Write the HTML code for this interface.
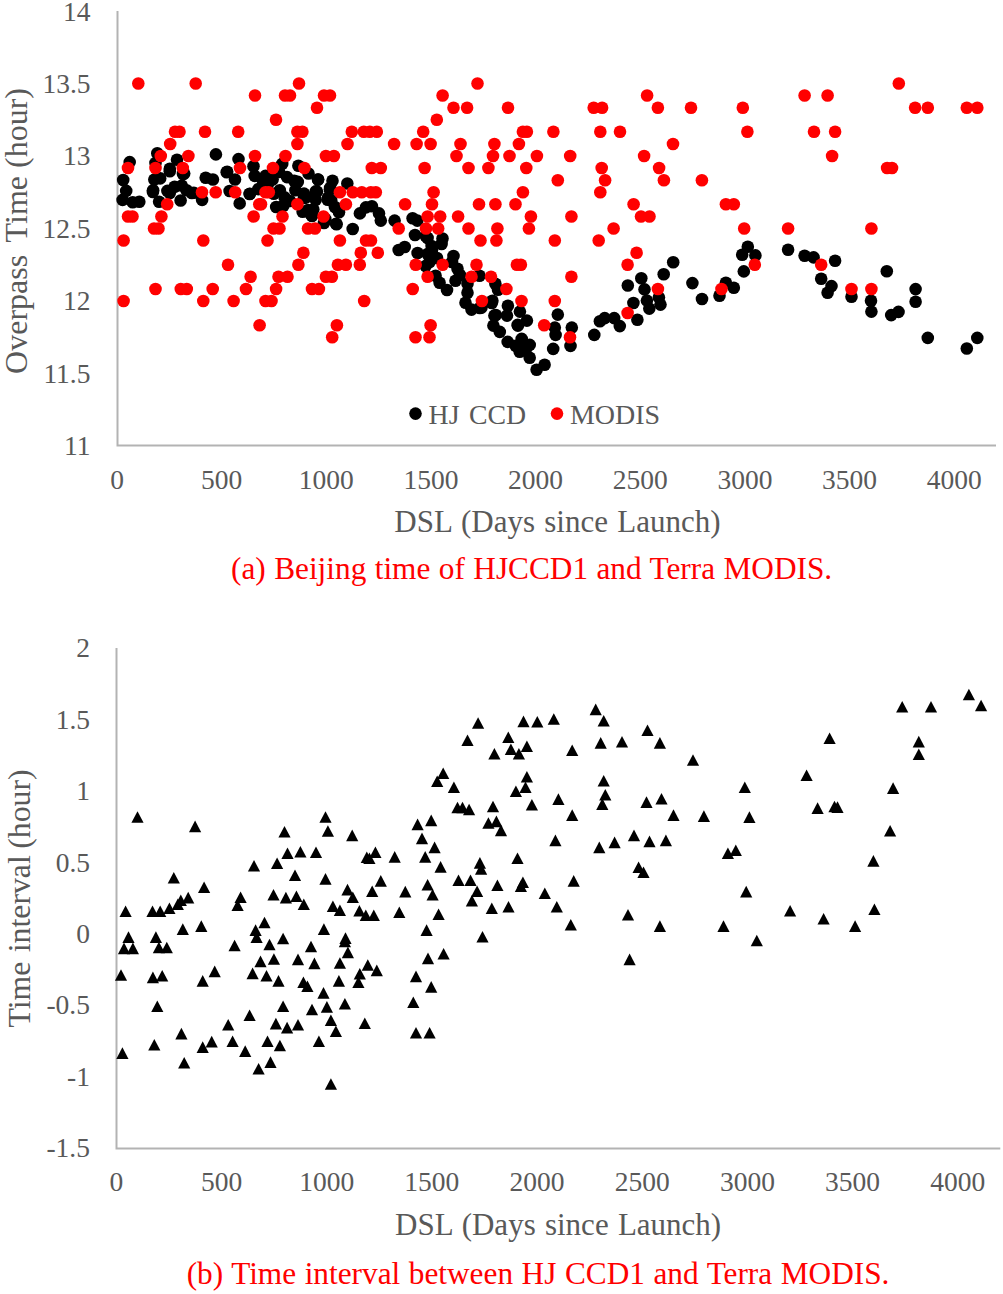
<!DOCTYPE html><html><head><meta charset="utf-8"><title>chart</title><style>html,body{margin:0;padding:0;background:#fff;}svg{display:block}text{font-family:"Liberation Serif",serif;}</style></head><body>
<svg width="1003" height="1294" viewBox="0 0 1003 1294">
<rect width="1003" height="1294" fill="#fff"/>
<path d="M117.5 11V445.5H996" fill="none" stroke="#b3b3b3" stroke-width="2"/>
<text x="90.5" y="20.9" font-size="27.5" fill="#595959" text-anchor="end">14</text>
<text x="90.5" y="92.7" font-size="27.5" fill="#595959" text-anchor="end">13.5</text>
<text x="90.5" y="165.2" font-size="27.5" fill="#595959" text-anchor="end">13</text>
<text x="90.5" y="237.7" font-size="27.5" fill="#595959" text-anchor="end">12.5</text>
<text x="90.5" y="310.2" font-size="27.5" fill="#595959" text-anchor="end">12</text>
<text x="90.5" y="382.7" font-size="27.5" fill="#595959" text-anchor="end">11.5</text>
<text x="90.5" y="455.2" font-size="27.5" fill="#595959" text-anchor="end">11</text>
<text x="117.0" y="488.5" font-size="27.5" fill="#595959" text-anchor="middle">0</text>
<text x="221.6" y="488.5" font-size="27.5" fill="#595959" text-anchor="middle">500</text>
<text x="326.3" y="488.5" font-size="27.5" fill="#595959" text-anchor="middle">1000</text>
<text x="430.9" y="488.5" font-size="27.5" fill="#595959" text-anchor="middle">1500</text>
<text x="535.6" y="488.5" font-size="27.5" fill="#595959" text-anchor="middle">2000</text>
<text x="640.2" y="488.5" font-size="27.5" fill="#595959" text-anchor="middle">2500</text>
<text x="744.9" y="488.5" font-size="27.5" fill="#595959" text-anchor="middle">3000</text>
<text x="849.5" y="488.5" font-size="27.5" fill="#595959" text-anchor="middle">3500</text>
<text x="954.2" y="488.5" font-size="27.5" fill="#595959" text-anchor="middle">4000</text>
<text x="394.3" y="531.5" font-size="31" fill="#595959" word-spacing="1.5">DSL (Days since Launch)</text>
<text x="231" y="579.3" font-size="31.3" fill="#ff0000" word-spacing="0.6">(a) Beijing time of HJCCD1 and Terra MODIS.</text>
<text transform="translate(26.6,0) rotate(-90)" y="0" font-size="32" fill="#595959"><tspan x="-373.9">Overpass</tspan><tspan x="-242.4">Time</tspan><tspan x="-168">(hour)</tspan></text>
<circle cx="415.5" cy="413.6" r="6.3" fill="#000"/>
<text y="424.2" font-size="27.8" fill="#595959"><tspan x="428.6">HJ</tspan><tspan x="469">CCD</tspan></text>
<circle cx="557" cy="413.6" r="6.3" fill="#ff0000"/>
<text x="569.9" y="424.2" font-size="28" fill="#595959">MODIS</text>
<g fill="#000">
<circle cx="129.7" cy="162.1" r="6.3"/>
<circle cx="157.3" cy="153.2" r="6.3"/>
<circle cx="155.5" cy="163.0" r="6.3"/>
<circle cx="177.0" cy="159.7" r="6.3"/>
<circle cx="215.9" cy="154.4" r="6.3"/>
<circle cx="169.8" cy="168.7" r="6.3"/>
<circle cx="183.0" cy="174.0" r="6.3"/>
<circle cx="123.2" cy="180.0" r="6.3"/>
<circle cx="154.3" cy="179.6" r="6.3"/>
<circle cx="160.2" cy="178.4" r="6.3"/>
<circle cx="126.2" cy="190.9" r="6.3"/>
<circle cx="153.1" cy="190.3" r="6.3"/>
<circle cx="167.4" cy="190.9" r="6.3"/>
<circle cx="174.6" cy="186.8" r="6.3"/>
<circle cx="181.8" cy="185.6" r="6.3"/>
<circle cx="186.6" cy="190.3" r="6.3"/>
<circle cx="193.8" cy="192.7" r="6.3"/>
<circle cx="205.7" cy="177.7" r="6.3"/>
<circle cx="212.9" cy="179.5" r="6.3"/>
<circle cx="226.7" cy="172.3" r="6.3"/>
<circle cx="122.6" cy="199.9" r="6.3"/>
<circle cx="132.7" cy="202.3" r="6.3"/>
<circle cx="139.3" cy="201.7" r="6.3"/>
<circle cx="159.1" cy="201.7" r="6.3"/>
<circle cx="180.6" cy="200.5" r="6.3"/>
<circle cx="202.1" cy="199.9" r="6.3"/>
<circle cx="229.6" cy="191.0" r="6.3"/>
<circle cx="169.8" cy="171.2" r="6.3"/>
<circle cx="184.2" cy="173.6" r="6.3"/>
<circle cx="238.5" cy="159.1" r="6.3"/>
<circle cx="227.2" cy="171.7" r="6.3"/>
<circle cx="235.0" cy="179.5" r="6.3"/>
<circle cx="253.5" cy="166.3" r="6.3"/>
<circle cx="254.7" cy="175.9" r="6.3"/>
<circle cx="265.5" cy="175.9" r="6.3"/>
<circle cx="272.6" cy="179.5" r="6.3"/>
<circle cx="282.2" cy="163.9" r="6.3"/>
<circle cx="298.4" cy="165.7" r="6.3"/>
<circle cx="287.0" cy="177.1" r="6.3"/>
<circle cx="294.2" cy="180.7" r="6.3"/>
<circle cx="297.8" cy="181.9" r="6.3"/>
<circle cx="308.5" cy="173.5" r="6.3"/>
<circle cx="318.1" cy="179.5" r="6.3"/>
<circle cx="332.5" cy="180.7" r="6.3"/>
<circle cx="249.9" cy="193.8" r="6.3"/>
<circle cx="258.3" cy="189.1" r="6.3"/>
<circle cx="239.7" cy="203.4" r="6.3"/>
<circle cx="273.8" cy="193.8" r="6.3"/>
<circle cx="279.8" cy="190.3" r="6.3"/>
<circle cx="284.6" cy="197.4" r="6.3"/>
<circle cx="276.2" cy="207.0" r="6.3"/>
<circle cx="283.4" cy="205.8" r="6.3"/>
<circle cx="295.4" cy="190.3" r="6.3"/>
<circle cx="306.1" cy="197.4" r="6.3"/>
<circle cx="315.7" cy="191.4" r="6.3"/>
<circle cx="315.7" cy="199.8" r="6.3"/>
<circle cx="302.6" cy="211.8" r="6.3"/>
<circle cx="310.9" cy="214.2" r="6.3"/>
<circle cx="313.3" cy="209.4" r="6.3"/>
<circle cx="327.7" cy="199.8" r="6.3"/>
<circle cx="330.1" cy="187.9" r="6.3"/>
<circle cx="334.9" cy="207.0" r="6.3"/>
<circle cx="325.3" cy="219.0" r="6.3"/>
<circle cx="336.1" cy="223.8" r="6.3"/>
<circle cx="152.9" cy="192.0" r="6.3"/>
<circle cx="169.8" cy="193.0" r="6.3"/>
<circle cx="191.8" cy="193.0" r="6.3"/>
<circle cx="249.6" cy="194.0" r="6.3"/>
<circle cx="331.2" cy="200.3" r="6.3"/>
<circle cx="339.0" cy="212.2" r="6.3"/>
<circle cx="336.6" cy="224.2" r="6.3"/>
<circle cx="352.7" cy="229.0" r="6.3"/>
<circle cx="359.9" cy="213.4" r="6.3"/>
<circle cx="365.9" cy="207.4" r="6.3"/>
<circle cx="371.9" cy="206.2" r="6.3"/>
<circle cx="379.0" cy="213.4" r="6.3"/>
<circle cx="380.8" cy="220.6" r="6.3"/>
<circle cx="394.6" cy="220.6" r="6.3"/>
<circle cx="412.6" cy="218.2" r="6.3"/>
<circle cx="417.3" cy="220.6" r="6.3"/>
<circle cx="415.0" cy="235.0" r="6.3"/>
<circle cx="425.7" cy="236.1" r="6.3"/>
<circle cx="442.5" cy="238.5" r="6.3"/>
<circle cx="347.3" cy="183.5" r="6.3"/>
<circle cx="318.0" cy="179.6" r="6.3"/>
<circle cx="317.0" cy="191.6" r="6.3"/>
<circle cx="329.9" cy="189.6" r="6.3"/>
<circle cx="304.0" cy="193.6" r="6.3"/>
<circle cx="328.0" cy="197.6" r="6.3"/>
<circle cx="304.0" cy="198.0" r="6.3"/>
<circle cx="308.0" cy="210.0" r="6.3"/>
<circle cx="312.0" cy="216.0" r="6.3"/>
<circle cx="324.0" cy="223.0" r="6.3"/>
<circle cx="398.7" cy="250.0" r="6.3"/>
<circle cx="404.7" cy="247.0" r="6.3"/>
<circle cx="427.6" cy="238.0" r="6.3"/>
<circle cx="431.6" cy="246.0" r="6.3"/>
<circle cx="441.6" cy="244.0" r="6.3"/>
<circle cx="417.6" cy="253.0" r="6.3"/>
<circle cx="427.6" cy="254.0" r="6.3"/>
<circle cx="429.6" cy="262.0" r="6.3"/>
<circle cx="425.6" cy="266.0" r="6.3"/>
<circle cx="453.5" cy="256.0" r="6.3"/>
<circle cx="457.5" cy="268.8" r="6.3"/>
<circle cx="455.5" cy="280.7" r="6.3"/>
<circle cx="435.6" cy="275.7" r="6.3"/>
<circle cx="439.6" cy="282.7" r="6.3"/>
<circle cx="467.5" cy="283.7" r="6.3"/>
<circle cx="479.5" cy="275.7" r="6.3"/>
<circle cx="467.5" cy="292.7" r="6.3"/>
<circle cx="465.5" cy="302.7" r="6.3"/>
<circle cx="471.5" cy="309.6" r="6.3"/>
<circle cx="481.5" cy="307.6" r="6.3"/>
<circle cx="492.4" cy="300.7" r="6.3"/>
<circle cx="495.4" cy="283.7" r="6.3"/>
<circle cx="494.4" cy="315.6" r="6.3"/>
<circle cx="493.4" cy="325.6" r="6.3"/>
<circle cx="498.0" cy="289.7" r="6.3"/>
<circle cx="507.9" cy="305.7" r="6.3"/>
<circle cx="507.0" cy="315.6" r="6.3"/>
<circle cx="519.9" cy="311.6" r="6.3"/>
<circle cx="526.9" cy="320.6" r="6.3"/>
<circle cx="517.9" cy="325.6" r="6.3"/>
<circle cx="557.8" cy="314.6" r="6.3"/>
<circle cx="554.8" cy="327.6" r="6.3"/>
<circle cx="571.8" cy="327.6" r="6.3"/>
<circle cx="479.8" cy="308.0" r="6.3"/>
<circle cx="491.8" cy="303.0" r="6.3"/>
<circle cx="495.8" cy="315.0" r="6.3"/>
<circle cx="499.8" cy="331.9" r="6.3"/>
<circle cx="517.7" cy="324.9" r="6.3"/>
<circle cx="507.7" cy="341.9" r="6.3"/>
<circle cx="515.7" cy="345.9" r="6.3"/>
<circle cx="521.7" cy="338.9" r="6.3"/>
<circle cx="529.7" cy="344.9" r="6.3"/>
<circle cx="519.7" cy="351.8" r="6.3"/>
<circle cx="529.7" cy="357.8" r="6.3"/>
<circle cx="525.7" cy="349.8" r="6.3"/>
<circle cx="536.6" cy="369.8" r="6.3"/>
<circle cx="544.6" cy="364.8" r="6.3"/>
<circle cx="555.6" cy="334.9" r="6.3"/>
<circle cx="553.2" cy="348.9" r="6.3"/>
<circle cx="570.5" cy="345.9" r="6.3"/>
<circle cx="594.3" cy="334.9" r="6.3"/>
<circle cx="599.9" cy="321.3" r="6.3"/>
<circle cx="604.7" cy="318.1" r="6.3"/>
<circle cx="614.2" cy="318.1" r="6.3"/>
<circle cx="619.8" cy="326.1" r="6.3"/>
<circle cx="637.4" cy="319.7" r="6.3"/>
<circle cx="633.4" cy="303.0" r="6.3"/>
<circle cx="627.8" cy="285.5" r="6.3"/>
<circle cx="641.3" cy="278.3" r="6.3"/>
<circle cx="644.5" cy="289.4" r="6.3"/>
<circle cx="646.9" cy="300.6" r="6.3"/>
<circle cx="649.3" cy="308.6" r="6.3"/>
<circle cx="658.9" cy="297.4" r="6.3"/>
<circle cx="660.5" cy="304.6" r="6.3"/>
<circle cx="663.7" cy="274.3" r="6.3"/>
<circle cx="673.2" cy="262.3" r="6.3"/>
<circle cx="692.4" cy="283.1" r="6.3"/>
<circle cx="702.0" cy="299.0" r="6.3"/>
<circle cx="719.5" cy="295.8" r="6.3"/>
<circle cx="432.0" cy="250.0" r="6.3"/>
<circle cx="437.0" cy="258.0" r="6.3"/>
<circle cx="279.0" cy="172.0" r="6.3"/>
<circle cx="268.0" cy="184.0" r="6.3"/>
<circle cx="262.0" cy="179.0" r="6.3"/>
<circle cx="290.0" cy="201.0" r="6.3"/>
<circle cx="452.0" cy="262.0" r="6.3"/>
<circle cx="460.0" cy="275.0" r="6.3"/>
<circle cx="447.0" cy="290.0" r="6.3"/>
<circle cx="725.9" cy="282.7" r="6.3"/>
<circle cx="733.8" cy="287.7" r="6.3"/>
<circle cx="743.8" cy="271.4" r="6.3"/>
<circle cx="742.2" cy="254.8" r="6.3"/>
<circle cx="747.8" cy="246.8" r="6.3"/>
<circle cx="755.4" cy="255.4" r="6.3"/>
<circle cx="788.1" cy="249.8" r="6.3"/>
<circle cx="804.6" cy="255.8" r="6.3"/>
<circle cx="813.6" cy="257.4" r="6.3"/>
<circle cx="835.1" cy="260.8" r="6.3"/>
<circle cx="821.2" cy="278.7" r="6.3"/>
<circle cx="831.5" cy="286.1" r="6.3"/>
<circle cx="827.6" cy="292.7" r="6.3"/>
<circle cx="851.5" cy="296.7" r="6.3"/>
<circle cx="871.0" cy="300.7" r="6.3"/>
<circle cx="871.4" cy="311.6" r="6.3"/>
<circle cx="886.8" cy="271.3" r="6.3"/>
<circle cx="891.2" cy="315.1" r="6.3"/>
<circle cx="898.5" cy="311.9" r="6.3"/>
<circle cx="915.6" cy="289.1" r="6.3"/>
<circle cx="915.6" cy="301.8" r="6.3"/>
<circle cx="927.8" cy="337.9" r="6.3"/>
<circle cx="966.8" cy="348.5" r="6.3"/>
<circle cx="977.3" cy="337.9" r="6.3"/>
</g>
<g fill="#ff0000">
<circle cx="138.3" cy="83.5" r="6.3"/>
<circle cx="195.7" cy="83.5" r="6.3"/>
<circle cx="299.0" cy="83.5" r="6.3"/>
<circle cx="477.5" cy="83.5" r="6.3"/>
<circle cx="898.8" cy="83.5" r="6.3"/>
<circle cx="255.0" cy="95.5" r="6.3"/>
<circle cx="285.0" cy="95.5" r="6.3"/>
<circle cx="290.0" cy="95.5" r="6.3"/>
<circle cx="324.0" cy="95.5" r="6.3"/>
<circle cx="330.0" cy="95.5" r="6.3"/>
<circle cx="442.6" cy="95.5" r="6.3"/>
<circle cx="647.1" cy="95.5" r="6.3"/>
<circle cx="804.6" cy="95.5" r="6.3"/>
<circle cx="827.6" cy="95.5" r="6.3"/>
<circle cx="317.0" cy="107.7" r="6.3"/>
<circle cx="453.5" cy="107.7" r="6.3"/>
<circle cx="467.1" cy="107.7" r="6.3"/>
<circle cx="508.0" cy="107.7" r="6.3"/>
<circle cx="593.7" cy="107.7" r="6.3"/>
<circle cx="602.1" cy="107.7" r="6.3"/>
<circle cx="657.9" cy="107.7" r="6.3"/>
<circle cx="691.0" cy="107.7" r="6.3"/>
<circle cx="742.8" cy="107.7" r="6.3"/>
<circle cx="915.1" cy="107.7" r="6.3"/>
<circle cx="927.8" cy="107.7" r="6.3"/>
<circle cx="966.8" cy="107.7" r="6.3"/>
<circle cx="977.3" cy="107.7" r="6.3"/>
<circle cx="276.0" cy="119.8" r="6.3"/>
<circle cx="436.8" cy="119.8" r="6.3"/>
<circle cx="175.0" cy="131.8" r="6.3"/>
<circle cx="179.5" cy="131.8" r="6.3"/>
<circle cx="205.0" cy="131.8" r="6.3"/>
<circle cx="238.2" cy="131.8" r="6.3"/>
<circle cx="297.4" cy="131.8" r="6.3"/>
<circle cx="302.4" cy="131.8" r="6.3"/>
<circle cx="351.8" cy="131.8" r="6.3"/>
<circle cx="363.8" cy="131.8" r="6.3"/>
<circle cx="369.8" cy="131.8" r="6.3"/>
<circle cx="376.8" cy="131.8" r="6.3"/>
<circle cx="423.2" cy="131.8" r="6.3"/>
<circle cx="522.9" cy="131.8" r="6.3"/>
<circle cx="526.9" cy="131.8" r="6.3"/>
<circle cx="553.4" cy="131.8" r="6.3"/>
<circle cx="600.3" cy="131.8" r="6.3"/>
<circle cx="620.0" cy="131.8" r="6.3"/>
<circle cx="747.4" cy="131.8" r="6.3"/>
<circle cx="814.0" cy="131.8" r="6.3"/>
<circle cx="835.1" cy="131.8" r="6.3"/>
<circle cx="170.2" cy="144.0" r="6.3"/>
<circle cx="297.4" cy="144.0" r="6.3"/>
<circle cx="347.5" cy="144.0" r="6.3"/>
<circle cx="394.1" cy="144.0" r="6.3"/>
<circle cx="416.6" cy="144.0" r="6.3"/>
<circle cx="430.6" cy="144.0" r="6.3"/>
<circle cx="460.5" cy="144.0" r="6.3"/>
<circle cx="494.4" cy="144.0" r="6.3"/>
<circle cx="518.9" cy="144.0" r="6.3"/>
<circle cx="673.0" cy="144.0" r="6.3"/>
<circle cx="160.8" cy="156.0" r="6.3"/>
<circle cx="188.4" cy="156.0" r="6.3"/>
<circle cx="255.0" cy="156.0" r="6.3"/>
<circle cx="285.5" cy="156.0" r="6.3"/>
<circle cx="325.9" cy="156.0" r="6.3"/>
<circle cx="333.9" cy="156.0" r="6.3"/>
<circle cx="456.5" cy="156.0" r="6.3"/>
<circle cx="493.0" cy="156.0" r="6.3"/>
<circle cx="509.5" cy="156.0" r="6.3"/>
<circle cx="536.9" cy="156.0" r="6.3"/>
<circle cx="570.2" cy="156.0" r="6.3"/>
<circle cx="644.1" cy="156.0" r="6.3"/>
<circle cx="832.1" cy="156.0" r="6.3"/>
<circle cx="128.0" cy="168.0" r="6.3"/>
<circle cx="155.5" cy="168.0" r="6.3"/>
<circle cx="182.8" cy="168.0" r="6.3"/>
<circle cx="240.0" cy="168.0" r="6.3"/>
<circle cx="273.0" cy="168.0" r="6.3"/>
<circle cx="304.4" cy="168.0" r="6.3"/>
<circle cx="371.8" cy="168.0" r="6.3"/>
<circle cx="380.8" cy="168.0" r="6.3"/>
<circle cx="424.6" cy="168.0" r="6.3"/>
<circle cx="468.5" cy="168.0" r="6.3"/>
<circle cx="488.4" cy="168.0" r="6.3"/>
<circle cx="526.3" cy="168.0" r="6.3"/>
<circle cx="601.7" cy="168.0" r="6.3"/>
<circle cx="659.1" cy="168.0" r="6.3"/>
<circle cx="887.1" cy="168.0" r="6.3"/>
<circle cx="892.0" cy="168.0" r="6.3"/>
<circle cx="557.8" cy="180.2" r="6.3"/>
<circle cx="605.1" cy="180.2" r="6.3"/>
<circle cx="663.9" cy="180.2" r="6.3"/>
<circle cx="701.9" cy="180.2" r="6.3"/>
<circle cx="202.0" cy="192.2" r="6.3"/>
<circle cx="215.7" cy="192.2" r="6.3"/>
<circle cx="235.2" cy="192.2" r="6.3"/>
<circle cx="265.5" cy="192.2" r="6.3"/>
<circle cx="268.8" cy="192.2" r="6.3"/>
<circle cx="339.9" cy="192.2" r="6.3"/>
<circle cx="352.8" cy="192.2" r="6.3"/>
<circle cx="361.8" cy="192.2" r="6.3"/>
<circle cx="370.8" cy="192.2" r="6.3"/>
<circle cx="375.8" cy="192.2" r="6.3"/>
<circle cx="433.6" cy="192.2" r="6.3"/>
<circle cx="522.9" cy="192.2" r="6.3"/>
<circle cx="600.3" cy="192.2" r="6.3"/>
<circle cx="167.2" cy="204.3" r="6.3"/>
<circle cx="259.3" cy="204.3" r="6.3"/>
<circle cx="261.0" cy="204.3" r="6.3"/>
<circle cx="297.4" cy="204.3" r="6.3"/>
<circle cx="345.9" cy="204.3" r="6.3"/>
<circle cx="405.1" cy="204.3" r="6.3"/>
<circle cx="432.0" cy="204.3" r="6.3"/>
<circle cx="479.0" cy="204.3" r="6.3"/>
<circle cx="495.4" cy="204.3" r="6.3"/>
<circle cx="515.5" cy="204.3" r="6.3"/>
<circle cx="633.6" cy="204.3" r="6.3"/>
<circle cx="725.9" cy="204.3" r="6.3"/>
<circle cx="733.8" cy="204.3" r="6.3"/>
<circle cx="128.0" cy="216.5" r="6.3"/>
<circle cx="132.5" cy="216.5" r="6.3"/>
<circle cx="161.4" cy="216.5" r="6.3"/>
<circle cx="253.6" cy="216.5" r="6.3"/>
<circle cx="282.5" cy="216.5" r="6.3"/>
<circle cx="323.5" cy="216.5" r="6.3"/>
<circle cx="427.6" cy="216.5" r="6.3"/>
<circle cx="440.2" cy="216.5" r="6.3"/>
<circle cx="458.1" cy="216.5" r="6.3"/>
<circle cx="530.9" cy="216.5" r="6.3"/>
<circle cx="571.4" cy="216.5" r="6.3"/>
<circle cx="641.0" cy="216.5" r="6.3"/>
<circle cx="649.5" cy="216.5" r="6.3"/>
<circle cx="154.0" cy="228.5" r="6.3"/>
<circle cx="158.5" cy="228.5" r="6.3"/>
<circle cx="273.5" cy="228.5" r="6.3"/>
<circle cx="279.5" cy="228.5" r="6.3"/>
<circle cx="308.0" cy="228.5" r="6.3"/>
<circle cx="315.0" cy="228.5" r="6.3"/>
<circle cx="398.7" cy="228.5" r="6.3"/>
<circle cx="426.0" cy="228.5" r="6.3"/>
<circle cx="438.2" cy="228.5" r="6.3"/>
<circle cx="468.5" cy="228.5" r="6.3"/>
<circle cx="497.4" cy="228.5" r="6.3"/>
<circle cx="528.9" cy="228.5" r="6.3"/>
<circle cx="613.6" cy="228.5" r="6.3"/>
<circle cx="744.2" cy="228.5" r="6.3"/>
<circle cx="788.1" cy="228.5" r="6.3"/>
<circle cx="871.4" cy="228.5" r="6.3"/>
<circle cx="123.6" cy="240.5" r="6.3"/>
<circle cx="203.3" cy="240.5" r="6.3"/>
<circle cx="267.5" cy="240.5" r="6.3"/>
<circle cx="339.9" cy="240.5" r="6.3"/>
<circle cx="366.0" cy="240.5" r="6.3"/>
<circle cx="371.0" cy="240.5" r="6.3"/>
<circle cx="480.5" cy="240.5" r="6.3"/>
<circle cx="496.4" cy="240.5" r="6.3"/>
<circle cx="554.8" cy="240.5" r="6.3"/>
<circle cx="598.7" cy="240.5" r="6.3"/>
<circle cx="303.4" cy="252.7" r="6.3"/>
<circle cx="360.8" cy="252.7" r="6.3"/>
<circle cx="377.8" cy="252.7" r="6.3"/>
<circle cx="636.6" cy="252.7" r="6.3"/>
<circle cx="228.0" cy="264.8" r="6.3"/>
<circle cx="298.4" cy="264.8" r="6.3"/>
<circle cx="337.9" cy="264.8" r="6.3"/>
<circle cx="345.9" cy="264.8" r="6.3"/>
<circle cx="359.8" cy="264.8" r="6.3"/>
<circle cx="415.7" cy="264.8" r="6.3"/>
<circle cx="442.6" cy="264.8" r="6.3"/>
<circle cx="476.5" cy="264.8" r="6.3"/>
<circle cx="516.9" cy="264.8" r="6.3"/>
<circle cx="520.9" cy="264.8" r="6.3"/>
<circle cx="627.6" cy="264.8" r="6.3"/>
<circle cx="754.8" cy="264.8" r="6.3"/>
<circle cx="821.2" cy="264.8" r="6.3"/>
<circle cx="250.6" cy="276.8" r="6.3"/>
<circle cx="278.5" cy="276.8" r="6.3"/>
<circle cx="287.5" cy="276.8" r="6.3"/>
<circle cx="325.9" cy="276.8" r="6.3"/>
<circle cx="331.9" cy="276.8" r="6.3"/>
<circle cx="427.6" cy="276.8" r="6.3"/>
<circle cx="471.5" cy="276.8" r="6.3"/>
<circle cx="491.0" cy="276.8" r="6.3"/>
<circle cx="571.4" cy="276.8" r="6.3"/>
<circle cx="155.5" cy="289.0" r="6.3"/>
<circle cx="180.8" cy="289.0" r="6.3"/>
<circle cx="186.8" cy="289.0" r="6.3"/>
<circle cx="212.7" cy="289.0" r="6.3"/>
<circle cx="246.0" cy="289.0" r="6.3"/>
<circle cx="276.1" cy="289.0" r="6.3"/>
<circle cx="312.0" cy="289.0" r="6.3"/>
<circle cx="318.9" cy="289.0" r="6.3"/>
<circle cx="412.7" cy="289.0" r="6.3"/>
<circle cx="506.4" cy="289.0" r="6.3"/>
<circle cx="657.9" cy="289.0" r="6.3"/>
<circle cx="721.5" cy="289.0" r="6.3"/>
<circle cx="851.5" cy="289.0" r="6.3"/>
<circle cx="871.4" cy="289.0" r="6.3"/>
<circle cx="123.6" cy="301.0" r="6.3"/>
<circle cx="203.3" cy="301.0" r="6.3"/>
<circle cx="233.6" cy="301.0" r="6.3"/>
<circle cx="265.5" cy="301.0" r="6.3"/>
<circle cx="271.5" cy="301.0" r="6.3"/>
<circle cx="364.2" cy="301.0" r="6.3"/>
<circle cx="481.9" cy="301.0" r="6.3"/>
<circle cx="521.5" cy="301.0" r="6.3"/>
<circle cx="554.8" cy="301.0" r="6.3"/>
<circle cx="627.6" cy="313.0" r="6.3"/>
<circle cx="259.6" cy="325.2" r="6.3"/>
<circle cx="336.9" cy="325.2" r="6.3"/>
<circle cx="430.6" cy="325.2" r="6.3"/>
<circle cx="544.2" cy="325.2" r="6.3"/>
<circle cx="332.2" cy="337.2" r="6.3"/>
<circle cx="415.5" cy="337.2" r="6.3"/>
<circle cx="429.5" cy="337.2" r="6.3"/>
<circle cx="570.0" cy="337.2" r="6.3"/>
</g>
<path d="M116.5 648V1148.5H1000.3" fill="none" stroke="#b3b3b3" stroke-width="2"/>
<text x="90" y="657.2" font-size="27.5" fill="#595959" text-anchor="end">2</text>
<text x="90" y="728.6" font-size="27.5" fill="#595959" text-anchor="end">1.5</text>
<text x="90" y="800.1" font-size="27.5" fill="#595959" text-anchor="end">1</text>
<text x="90" y="871.5" font-size="27.5" fill="#595959" text-anchor="end">0.5</text>
<text x="90" y="942.9" font-size="27.5" fill="#595959" text-anchor="end">0</text>
<text x="90" y="1014.3" font-size="27.5" fill="#595959" text-anchor="end">-0.5</text>
<text x="90" y="1085.8" font-size="27.5" fill="#595959" text-anchor="end">-1</text>
<text x="90" y="1157.2" font-size="27.5" fill="#595959" text-anchor="end">-1.5</text>
<text x="116.3" y="1190.8" font-size="27.5" fill="#595959" text-anchor="middle">0</text>
<text x="221.5" y="1190.8" font-size="27.5" fill="#595959" text-anchor="middle">500</text>
<text x="326.7" y="1190.8" font-size="27.5" fill="#595959" text-anchor="middle">1000</text>
<text x="431.8" y="1190.8" font-size="27.5" fill="#595959" text-anchor="middle">1500</text>
<text x="537.0" y="1190.8" font-size="27.5" fill="#595959" text-anchor="middle">2000</text>
<text x="642.2" y="1190.8" font-size="27.5" fill="#595959" text-anchor="middle">2500</text>
<text x="747.4" y="1190.8" font-size="27.5" fill="#595959" text-anchor="middle">3000</text>
<text x="852.6" y="1190.8" font-size="27.5" fill="#595959" text-anchor="middle">3500</text>
<text x="957.7" y="1190.8" font-size="27.5" fill="#595959" text-anchor="middle">4000</text>
<text x="395" y="1234.7" font-size="31" fill="#595959" word-spacing="1.5">DSL (Days since Launch)</text>
<text x="186.7" y="1284" font-size="31.3" fill="#ff0000" word-spacing="0.72">(b) Time interval between HJ CCD1 and Terra MODIS.</text>
<text transform="translate(30,0) rotate(-90)" y="0" font-size="31.8" fill="#595959"><tspan x="-1027.6">Time</tspan><tspan x="-952.3">interval</tspan><tspan x="-848.8">(hour)</tspan></text>
<g fill="#000">
<path d="M137.5 811.2L143.6 822.8H131.4Z"/>
<path d="M195.1 820.6L201.2 832.2H189.0Z"/>
<path d="M284.5 826.0L290.6 837.6H278.4Z"/>
<path d="M287.5 847.5L293.6 859.1H281.4Z"/>
<path d="M300.4 845.9L306.5 857.5H294.3Z"/>
<path d="M254.0 859.9L260.1 871.5H247.9Z"/>
<path d="M277.1 857.5L283.2 869.1H271.0Z"/>
<path d="M295.0 869.5L301.1 881.1H288.9Z"/>
<path d="M173.8 871.9L179.9 883.5H167.7Z"/>
<path d="M204.1 881.4L210.2 893.0H198.0Z"/>
<path d="M125.6 905.4L131.7 917.0H119.5Z"/>
<path d="M152.5 905.4L158.6 917.0H146.4Z"/>
<path d="M160.2 905.4L166.3 917.0H154.1Z"/>
<path d="M169.4 902.4L175.5 914.0H163.3Z"/>
<path d="M177.8 898.4L183.9 910.0H171.7Z"/>
<path d="M180.8 894.4L186.9 906.0H174.7Z"/>
<path d="M188.2 891.8L194.3 903.4H182.1Z"/>
<path d="M240.6 891.4L246.7 903.0H234.5Z"/>
<path d="M237.6 899.4L243.7 911.0H231.5Z"/>
<path d="M273.5 889.0L279.6 900.6H267.4Z"/>
<path d="M285.9 891.8L292.0 903.4H279.8Z"/>
<path d="M296.4 890.4L302.5 902.0H290.3Z"/>
<path d="M303.8 898.4L309.9 910.0H297.7Z"/>
<path d="M182.8 923.3L188.9 934.9H176.7Z"/>
<path d="M201.3 920.3L207.4 931.9H195.2Z"/>
<path d="M264.5 916.7L270.6 928.3H258.4Z"/>
<path d="M255.6 924.3L261.7 935.9H249.5Z"/>
<path d="M128.5 931.3L134.6 942.9H122.4Z"/>
<path d="M155.9 931.3L162.0 942.9H149.8Z"/>
<path d="M256.6 931.3L262.7 942.9H250.5Z"/>
<path d="M283.1 932.7L289.2 944.3H277.0Z"/>
<path d="M124.0 942.6L130.1 954.2H117.9Z"/>
<path d="M132.9 942.6L139.0 954.2H126.8Z"/>
<path d="M158.9 941.7L165.0 953.3H152.8Z"/>
<path d="M166.8 941.7L172.9 953.3H160.7Z"/>
<path d="M234.6 939.7L240.7 951.3H228.5Z"/>
<path d="M269.5 938.7L275.6 950.3H263.4Z"/>
<path d="M260.5 955.6L266.6 967.2H254.4Z"/>
<path d="M273.9 953.2L280.0 964.8H267.8Z"/>
<path d="M298.0 953.6L304.1 965.2H291.9Z"/>
<path d="M121.0 969.2L127.1 980.8H114.9Z"/>
<path d="M152.9 971.6L159.0 983.2H146.8Z"/>
<path d="M162.2 970.0L168.3 981.6H156.1Z"/>
<path d="M202.7 975.1L208.8 986.7H196.6Z"/>
<path d="M214.7 965.6L220.8 977.2H208.6Z"/>
<path d="M252.6 967.6L258.7 979.2H246.5Z"/>
<path d="M266.5 970.0L272.6 981.6H260.4Z"/>
<path d="M278.5 975.1L284.6 986.7H272.4Z"/>
<path d="M303.4 976.5L309.5 988.1H297.3Z"/>
<path d="M307.4 980.5L313.5 992.1H301.3Z"/>
<path d="M157.3 1000.5L163.4 1012.1H151.2Z"/>
<path d="M283.1 1000.5L289.2 1012.1H277.0Z"/>
<path d="M312.0 1003.7L318.1 1015.3H305.9Z"/>
<path d="M249.6 1009.4L255.7 1021.0H243.5Z"/>
<path d="M228.2 1019.0L234.3 1030.6H222.1Z"/>
<path d="M275.9 1017.8L282.0 1029.4H269.8Z"/>
<path d="M287.1 1021.8L293.2 1033.4H281.0Z"/>
<path d="M298.0 1019.0L304.1 1030.6H291.9Z"/>
<path d="M181.4 1027.8L187.5 1039.4H175.3Z"/>
<path d="M154.3 1039.0L160.4 1050.6H148.2Z"/>
<path d="M211.7 1035.8L217.8 1047.4H205.6Z"/>
<path d="M202.7 1041.3L208.8 1052.9H196.6Z"/>
<path d="M232.6 1035.4L238.7 1047.0H226.5Z"/>
<path d="M267.5 1035.4L273.6 1047.0H261.4Z"/>
<path d="M279.9 1039.7L286.0 1051.3H273.8Z"/>
<path d="M245.2 1045.3L251.3 1056.9H239.1Z"/>
<path d="M122.4 1047.3L128.5 1058.9H116.3Z"/>
<path d="M184.2 1056.9L190.3 1068.5H178.1Z"/>
<path d="M270.5 1056.3L276.6 1067.9H264.4Z"/>
<path d="M258.6 1062.9L264.7 1074.5H252.5Z"/>
<path d="M325.5 811.2L331.6 822.8H319.4Z"/>
<path d="M327.9 825.2L334.0 836.8H321.8Z"/>
<path d="M352.2 829.6L358.3 841.2H346.1Z"/>
<path d="M316.0 846.5L322.1 858.1H309.9Z"/>
<path d="M366.8 851.5L372.9 863.1H360.7Z"/>
<path d="M369.4 852.5L375.5 864.1H363.3Z"/>
<path d="M375.4 846.5L381.5 858.1H369.3Z"/>
<path d="M394.7 851.1L400.8 862.7H388.6Z"/>
<path d="M417.6 818.6L423.7 830.2H411.5Z"/>
<path d="M431.2 814.6L437.3 826.2H425.1Z"/>
<path d="M422.0 832.6L428.1 844.2H415.9Z"/>
<path d="M434.6 841.6L440.7 853.2H428.5Z"/>
<path d="M425.2 851.1L431.3 862.7H419.1Z"/>
<path d="M440.6 861.1L446.7 872.7H434.5Z"/>
<path d="M457.5 801.7L463.6 813.3H451.4Z"/>
<path d="M462.5 801.7L468.6 813.3H456.4Z"/>
<path d="M469.1 803.7L475.2 815.3H463.0Z"/>
<path d="M493.0 800.7L499.1 812.3H486.9Z"/>
<path d="M488.4 817.2L494.5 828.8H482.3Z"/>
<path d="M496.4 815.6L502.5 827.2H490.3Z"/>
<path d="M479.9 857.1L486.0 868.7H473.8Z"/>
<path d="M481.1 863.1L487.2 874.7H475.0Z"/>
<path d="M325.5 873.1L331.6 884.7H319.4Z"/>
<path d="M380.8 875.1L386.9 886.7H374.7Z"/>
<path d="M347.5 883.8L353.6 895.4H341.4Z"/>
<path d="M352.8 891.4L358.9 903.0H346.7Z"/>
<path d="M372.2 885.4L378.3 897.0H366.1Z"/>
<path d="M405.3 885.8L411.4 897.4H399.2Z"/>
<path d="M427.6 879.0L433.7 890.6H421.5Z"/>
<path d="M432.6 889.0L438.7 900.6H426.5Z"/>
<path d="M458.5 874.5L464.6 886.1H452.4Z"/>
<path d="M470.5 874.5L476.6 886.1H464.4Z"/>
<path d="M477.1 885.4L483.2 897.0H471.0Z"/>
<path d="M471.9 895.0L478.0 906.6H465.8Z"/>
<path d="M497.4 879.4L503.5 891.0H491.3Z"/>
<path d="M332.9 900.4L339.0 912.0H326.8Z"/>
<path d="M339.9 904.4L346.0 916.0H333.8Z"/>
<path d="M359.4 905.0L365.5 916.6H353.3Z"/>
<path d="M365.8 909.4L371.9 921.0H359.7Z"/>
<path d="M373.8 909.4L379.9 921.0H367.7Z"/>
<path d="M399.3 906.4L405.4 918.0H393.2Z"/>
<path d="M438.6 908.4L444.7 920.0H432.5Z"/>
<path d="M491.8 902.4L497.9 914.0H485.7Z"/>
<path d="M323.9 923.3L330.0 934.9H317.8Z"/>
<path d="M426.6 924.3L432.7 935.9H420.5Z"/>
<path d="M345.5 932.3L351.6 943.9H339.4Z"/>
<path d="M482.5 930.9L488.6 942.5H476.4Z"/>
<path d="M311.0 940.7L317.1 952.3H304.9Z"/>
<path d="M344.9 935.7L351.0 947.3H338.8Z"/>
<path d="M347.9 946.6L354.0 958.2H341.8Z"/>
<path d="M339.9 957.2L346.0 968.8H333.8Z"/>
<path d="M314.4 957.6L320.5 969.2H308.3Z"/>
<path d="M367.8 959.2L373.9 970.8H361.7Z"/>
<path d="M376.8 964.6L382.9 976.2H370.7Z"/>
<path d="M359.8 968.0L365.9 979.6H353.7Z"/>
<path d="M358.4 976.5L364.5 988.1H352.3Z"/>
<path d="M338.9 975.1L345.0 986.7H332.8Z"/>
<path d="M323.5 987.1L329.6 998.7H317.4Z"/>
<path d="M326.9 1001.1L333.0 1012.7H320.8Z"/>
<path d="M344.9 997.9L351.0 1009.5H338.8Z"/>
<path d="M330.9 1014.4L337.0 1026.0H324.8Z"/>
<path d="M335.9 1025.4L342.0 1037.0H329.8Z"/>
<path d="M364.8 1017.4L370.9 1029.0H358.7Z"/>
<path d="M318.9 1035.4L325.0 1047.0H312.8Z"/>
<path d="M330.9 1078.2L337.0 1089.8H324.8Z"/>
<path d="M428.0 952.6L434.1 964.2H421.9Z"/>
<path d="M443.6 948.0L449.7 959.6H437.5Z"/>
<path d="M416.0 970.6L422.1 982.2H409.9Z"/>
<path d="M431.2 981.1L437.3 992.7H425.1Z"/>
<path d="M413.3 996.5L419.4 1008.1H407.2Z"/>
<path d="M416.0 1027.0L422.1 1038.6H409.9Z"/>
<path d="M429.6 1027.0L435.7 1038.6H423.5Z"/>
<path d="M478.1 717.2L484.2 728.8H472.0Z"/>
<path d="M467.5 734.5L473.6 746.1H461.4Z"/>
<path d="M494.4 747.9L500.5 759.5H488.3Z"/>
<path d="M443.2 767.4L449.3 779.0H437.1Z"/>
<path d="M437.2 775.4L443.3 787.0H431.1Z"/>
<path d="M453.9 781.4L460.0 793.0H447.8Z"/>
<path d="M595.7 703.6L601.8 715.2H589.6Z"/>
<path d="M603.7 715.0L609.8 726.6H597.6Z"/>
<path d="M523.5 715.6L529.6 727.2H517.4Z"/>
<path d="M537.3 716.0L543.4 727.6H531.2Z"/>
<path d="M553.8 713.2L559.9 724.8H547.7Z"/>
<path d="M647.5 724.5L653.6 736.1H641.4Z"/>
<path d="M508.3 731.5L514.4 743.1H502.2Z"/>
<path d="M526.9 740.5L533.0 752.1H520.8Z"/>
<path d="M510.9 743.5L517.0 755.1H504.8Z"/>
<path d="M518.9 747.9L525.0 759.5H512.8Z"/>
<path d="M572.2 744.5L578.3 756.1H566.1Z"/>
<path d="M600.7 737.1L606.8 748.7H594.6Z"/>
<path d="M622.0 735.9L628.1 747.5H615.9Z"/>
<path d="M659.9 737.1L666.0 748.7H653.8Z"/>
<path d="M693.0 754.2L699.1 765.8H686.9Z"/>
<path d="M526.9 771.0L533.0 782.6H520.8Z"/>
<path d="M525.5 781.4L531.6 793.0H519.4Z"/>
<path d="M515.9 785.4L522.0 797.0H509.8Z"/>
<path d="M603.7 775.0L609.8 786.6H597.6Z"/>
<path d="M605.3 789.0L611.4 800.6H599.2Z"/>
<path d="M602.3 798.3L608.4 809.9H596.2Z"/>
<path d="M558.4 793.3L564.5 804.9H552.3Z"/>
<path d="M531.9 798.9L538.0 810.5H525.8Z"/>
<path d="M646.5 796.3L652.6 807.9H640.4Z"/>
<path d="M661.5 792.9L667.6 804.5H655.4Z"/>
<path d="M572.2 809.3L578.3 820.9H566.1Z"/>
<path d="M673.5 809.3L679.6 820.9H667.4Z"/>
<path d="M501.0 824.6L507.1 836.2H494.9Z"/>
<path d="M555.4 834.6L561.5 846.2H549.3Z"/>
<path d="M599.3 841.6L605.4 853.2H593.2Z"/>
<path d="M614.6 836.6L620.7 848.2H608.5Z"/>
<path d="M634.0 829.6L640.1 841.2H627.9Z"/>
<path d="M649.5 835.6L655.6 847.2H643.4Z"/>
<path d="M665.9 834.6L672.0 846.2H659.8Z"/>
<path d="M517.5 852.5L523.6 864.1H511.4Z"/>
<path d="M638.6 861.5L644.7 873.1H632.5Z"/>
<path d="M643.5 866.5L649.6 878.1H637.4Z"/>
<path d="M522.9 876.5L529.0 888.1H516.8Z"/>
<path d="M520.9 880.4L527.0 892.0H514.8Z"/>
<path d="M573.7 875.1L579.8 886.7H567.6Z"/>
<path d="M544.8 887.4L550.9 899.0H538.7Z"/>
<path d="M508.5 901.0L514.6 912.6H502.4Z"/>
<path d="M556.8 901.0L562.9 912.6H550.7Z"/>
<path d="M628.0 909.0L634.1 920.6H621.9Z"/>
<path d="M570.8 918.9L576.9 930.5H564.7Z"/>
<path d="M659.9 920.3L666.0 931.9H653.8Z"/>
<path d="M629.6 953.6L635.7 965.2H623.5Z"/>
<path d="M829.6 732.5L835.7 744.1H823.5Z"/>
<path d="M806.6 769.4L812.7 781.0H800.5Z"/>
<path d="M744.8 781.4L750.9 793.0H738.7Z"/>
<path d="M817.6 802.3L823.7 813.9H811.5Z"/>
<path d="M834.5 800.7L840.6 812.3H828.4Z"/>
<path d="M837.5 801.3L843.6 812.9H831.4Z"/>
<path d="M703.9 810.3L710.0 821.9H697.8Z"/>
<path d="M749.4 811.3L755.5 822.9H743.3Z"/>
<path d="M727.9 847.5L734.0 859.1H721.8Z"/>
<path d="M735.8 844.5L741.9 856.1H729.7Z"/>
<path d="M873.4 855.1L879.5 866.7H867.3Z"/>
<path d="M746.2 885.8L752.3 897.4H740.1Z"/>
<path d="M790.1 905.0L796.2 916.6H784.0Z"/>
<path d="M874.4 903.4L880.5 915.0H868.3Z"/>
<path d="M823.6 912.9L829.7 924.5H817.5Z"/>
<path d="M723.5 920.3L729.6 931.9H717.4Z"/>
<path d="M855.1 920.3L861.2 931.9H849.0Z"/>
<path d="M756.8 934.7L762.9 946.3H750.7Z"/>
<path d="M902.2 701.0L908.3 712.6H896.1Z"/>
<path d="M931.0 701.0L937.1 712.6H924.9Z"/>
<path d="M968.9 688.7L975.0 700.3H962.8Z"/>
<path d="M981.1 699.7L987.2 711.3H975.0Z"/>
<path d="M918.8 735.8L924.9 747.4H912.7Z"/>
<path d="M918.8 748.5L924.9 760.1H912.7Z"/>
<path d="M893.1 782.3L899.2 793.9H887.0Z"/>
<path d="M890.1 824.9L896.2 836.5H884.0Z"/>
</g>
</svg></body></html>
